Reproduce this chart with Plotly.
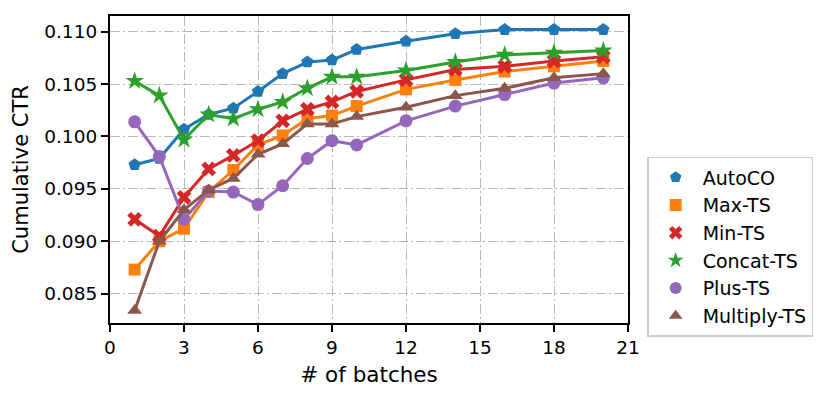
import plotly.graph_objects as go

# batches and cumulative CTR for each method
batches = [1, 2, 3, 4, 5, 6, 7, 8, 9, 10, 12, 14, 16, 18, 20]
autoco = [0.0973, 0.0979, 0.1007, 0.1021, 0.1027, 0.1043, 0.1060, 0.1071, 0.1073, 0.1083,
          0.1091, 0.1098, 0.1102, 0.1102, 0.1102]
max_ts = [0.0873, 0.0900, 0.0912, 0.0947, 0.0968, 0.0992, 0.1001, 0.1017, 0.1020, 0.1029,
          0.1045, 0.1054, 0.1062, 0.1067, 0.1072]
min_ts = [0.0921, 0.0905, 0.0942, 0.0969, 0.0982, 0.0996, 0.1015, 0.1026, 0.1033, 0.1043,
          0.1054, 0.1064, 0.1067, 0.1072, 0.1076]
concat_ts = [0.1053, 0.1039, 0.0997, 0.1021, 0.1017, 0.1026, 0.1033, 0.1046, 0.1057, 0.1057,
             0.1063, 0.1071, 0.1078, 0.1080, 0.1082]
plus_ts = [0.1014, 0.0981, 0.0921, 0.0948, 0.0947, 0.0935, 0.0953, 0.0979, 0.0996, 0.0992,
           0.1015, 0.1029, 0.1040, 0.1051, 0.1056]
multiply_ts = [0.0834, 0.0900, 0.0930, 0.0949, 0.0960, 0.0983, 0.0993, 0.1012, 0.1012, 0.1019,
               0.1028, 0.1039, 0.1046, 0.1056, 0.1060]

names = ['AutoCO', 'Max-TS', 'Min-TS', 'Concat-TS', 'Plus-TS', 'Multiply-TS']
series = [autoco, max_ts, min_ts, concat_ts, plus_ts, multiply_ts]
colors = ['#1f77b4', '#ff7f0e', '#d62728', '#2ca02c', '#9467bd', '#8c564b']
symbols = ['pentagon', 'square', 'x', 'star', 'circle', 'triangle-up']
sizes = [13, 12, 13, 14, 13, 13]

fig = go.Figure()
for nm, ys, c, s, sz in zip(names, series, colors, symbols, sizes):
    # line + markers, not in legend
    fig.add_trace(go.Scatter(x=batches, y=ys, mode='lines+markers', name=nm, showlegend=False,
                             legendgroup=nm, line=dict(color=c, width=3),
                             marker=dict(symbol=s, size=sz, color=c, line=dict(width=0))))
    # marker only entry for the legend
    fig.add_trace(go.Scatter(x=[None], y=[None], mode='markers', name=nm, legendgroup=nm,
                             marker=dict(symbol=s, size=sz, color=c, line=dict(width=0))))

grid = dict(showgrid=True, gridcolor='#b8b8b8', gridwidth=1.2, griddash='10px,3px,2px,3px',
            zeroline=False, showline=True, linecolor='black', linewidth=2.2, mirror=True,
            ticks='outside', ticklen=7, tickwidth=1.5, tickcolor='black', automargin=False,
            tickfont=dict(size=18.5, color='black'))

fig.update_xaxes(range=[0, 21], tickvals=list(range(0, 22, 3)),
                 title=dict(text='# of batches', font=dict(size=21.5, color='black'), standoff=10), **grid)
fig.update_yaxes(range=[0.0822, 0.1115], tickvals=[0.085, 0.090, 0.095, 0.100, 0.105, 0.110],
                 tickformat='.3f',
                 title=dict(text='Cumulative CTR', font=dict(size=21, color='black'), standoff=10), **grid)

# the page body adds 8px around the figure, so margins are shifted by that
fig.update_layout(
    width=831, height=402,
    margin=dict(l=102, r=211, t=8, b=87),
    plot_bgcolor='white', paper_bgcolor='white',
    font=dict(family='DejaVu Sans', color='black'),
    legend=dict(x=1.037, y=0.541, xanchor='left', yanchor='top',
                bordercolor='#cccccc', borderwidth=1.5, font=dict(size=19),
                itemsizing='constant', itemwidth=44, tracegroupgap=0),
)

fig.write_html("out.html")
